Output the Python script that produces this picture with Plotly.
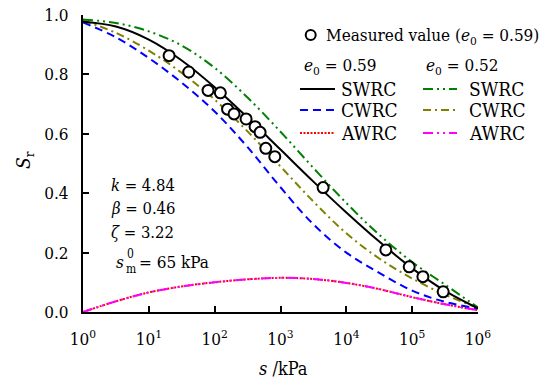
import plotly.graph_objects as go

# Suction grid (kPa), half-decade steps from 1 kPa to 1e6 kPa
suction = [1, 3.162, 10, 31.62, 100, 316.2, 1000, 3162, 10000, 31623, 100000, 316228, 1000000]

# e0 = 0.59
swrc_059 = [0.977, 0.961, 0.917, 0.847, 0.757, 0.655, 0.547, 0.439, 0.335, 0.237, 0.147, 0.071, 0.012]
cwrc_059 = [0.975, 0.925, 0.855, 0.772, 0.675, 0.555, 0.420, 0.295, 0.200, 0.132, 0.072, 0.034, 0.012]
awrc_059 = [0.000, 0.036, 0.066, 0.086, 0.100, 0.110, 0.115, 0.111, 0.098, 0.077, 0.050, 0.026, 0.006]

# e0 = 0.52
swrc_052 = [0.985, 0.973, 0.945, 0.897, 0.822, 0.722, 0.607, 0.485, 0.367, 0.260, 0.168, 0.092, 0.015]
cwrc_052 = [0.981, 0.940, 0.880, 0.805, 0.715, 0.608, 0.490, 0.372, 0.265, 0.180, 0.113, 0.058, 0.014]
awrc_052 = [0.000, 0.036, 0.066, 0.086, 0.100, 0.110, 0.115, 0.111, 0.098, 0.077, 0.050, 0.026, 0.006]

# Measured data, e0 = 0.59
meas_s = [20.3, 40.4, 79.4, 122, 157, 197, 300, 411, 490, 598, 819, 4440, 39800, 90100, 145600, 296000]
meas_sr = [0.863, 0.808, 0.746, 0.738, 0.683, 0.667, 0.650, 0.624, 0.605, 0.551, 0.523, 0.419, 0.209, 0.152, 0.119, 0.068]

x_tick_vals = [1, 10, 100, 1000, 10000, 100000, 1000000]
x_tick_text = ["10<sup>%d</sup>" % i for i in range(7)]

FONT = "DejaVu Serif Condensed, DejaVu Serif"

W, H = 549, 381
L, R, T, B = 83, 71, 15, 69
PW, PH = W - L - R, H - T - B

GREEN = "#008000"
OLIVE = "#808000"
BLUE = "#0000FF"
RED = "#FF0000"
MAGENTA = "#FF00FF"

DASH_DDOT = "10px,4px,2px,4px,2px,4px"
DASH_DOT = "8px,4px,2px,4px"
DASH = "8px,5px"
DOTS = "2px,1.5px"


def px(x, y):
    """Convert pixel position in the figure to paper coordinates."""
    return (x - L) / PW, (H - B - y) / PH


fig = go.Figure()

curves = [
    (awrc_059, RED, DOTS),
    (awrc_052, MAGENTA, DASH_DDOT),
    (cwrc_059, BLUE, DASH),
    (cwrc_052, OLIVE, DASH_DOT),
    (swrc_052, GREEN, DASH_DDOT),
    (swrc_059, "black", "solid"),
]
for ys, color, dash in curves:
    fig.add_trace(go.Scatter(
        x=suction, y=ys, mode="lines",
        line=dict(color=color, width=2, dash=dash, shape="spline", smoothing=1.0),
        showlegend=False, hoverinfo="skip",
    ))

fig.add_trace(go.Scatter(
    x=meas_s, y=meas_sr, mode="markers",
    marker=dict(symbol="circle", size=11, color="white",
                line=dict(color="black", width=2)),
    showlegend=False,
))

shapes = []
annotations = []

# Legend block
cx, cy = px(310.7, 35)
rx, ry = 5 / PW, 5 / PH
shapes.append(dict(type="circle", xref="paper", yref="paper",
                   x0=cx - rx, x1=cx + rx, y0=cy - ry, y1=cy + ry,
                   line=dict(color="black", width=2), fillcolor="white"))


def label(x, y, text, size, anchor="left", angle=0):
    xp, yp = px(x, y)
    annotations.append(dict(xref="paper", yref="paper", x=xp, y=yp, text=text,
                            xanchor=anchor, yanchor="middle", showarrow=False,
                            borderpad=0, textangle=angle,
                            font=dict(family=FONT, size=size, color="black")))


label(325, 36, "Measured value (<i>e</i><sub>0</sub> = 0.59)", 17)
label(303, 66, "<i>e</i><sub>0</sub> = 0.59", 17)
label(425, 66, "<i>e</i><sub>0</sub> = 0.52", 17)

rows = [
    (89, "SWRC", ("black", "solid"), (GREEN, DASH_DDOT)),
    (110, "CWRC", (BLUE, DASH), (OLIVE, DASH_DOT)),
    (133, "AWRC", (RED, DOTS), (MAGENTA, DASH_DDOT)),
]
for y, name, left_style, right_style in rows:
    for (x0, x1, tx), (color, dash) in (((300, 335, 340), left_style),
                                         ((423, 457, 468), right_style)):
        a, yy = px(x0, y)
        b, _ = px(x1, y)
        shapes.append(dict(type="line", xref="paper", yref="paper",
                           x0=a, x1=b, y0=yy, y1=yy,
                           line=dict(color=color, width=2, dash=dash)))
        label(tx, y, name, 19)

# Model parameters
label(110, 185, "<i>k</i> = 4.84", 16.5)
label(110, 208, "<i>β</i> = 0.46", 16.5)
label(110, 232, "<i>ζ</i> = 3.22", 16.5)
label(115, 262, "<i>s</i>", 17)
label(126, 254, "0", 12)
label(125, 269, "m", 12)
label(138, 262, "= 65 kPa", 17)

# Axis titles
label(283, 369, "<i>s</i> /kPa", 18, anchor="center")
label(24, 160, "<i>S</i><sub>r</sub>", 19, anchor="center", angle=-90)

fig.update_layout(
    width=W, height=H,
    margin=dict(l=L, r=R, t=T, b=B, pad=0),
    paper_bgcolor="white", plot_bgcolor="white",
    font=dict(family=FONT, size=17, color="black"),
    shapes=shapes, annotations=annotations,
    showlegend=False,
    xaxis=dict(
        type="log", range=[0, 6], automargin=False,
        tickvals=x_tick_vals, ticktext=x_tick_text,
        ticks="inside", ticklen=6, tickwidth=2, tickcolor="black",
        showline=True, linewidth=2, linecolor="black",
        showgrid=False, zeroline=False, ticklabelstandoff=11,
        tickfont=dict(family=FONT, size=17),
    ),
    yaxis=dict(
        range=[0, 1], dtick=0.2, tickformat=".1f", automargin=False,
        ticks="inside", ticklen=6, tickwidth=2, tickcolor="black",
        showline=True, linewidth=2, linecolor="black",
        showgrid=False, zeroline=False, ticklabelstandoff=9,
        tickfont=dict(family=FONT, size=17),
    ),
)

fig.write_html("out.html")
